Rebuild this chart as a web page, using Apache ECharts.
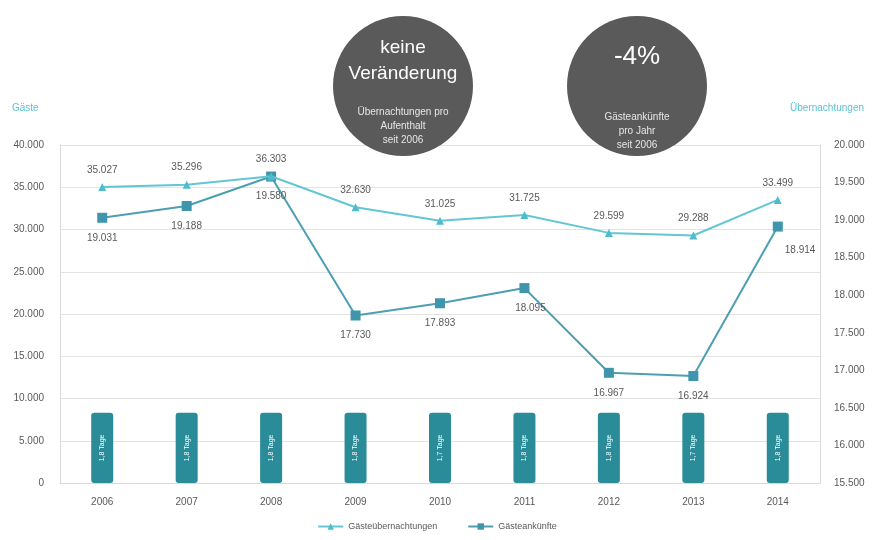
<!DOCTYPE html>
<html>
<head>
<meta charset="utf-8">
<script src="https://cdn.jsdelivr.net/npm/echarts@6/dist/echarts.min.js"></script>
<style>
html,body{margin:0;padding:0;background:#fff;}
#c{width:874px;height:540px;}
</style>
</head>
<body>
<div id="c"></div>
<script>
const years = ['2006','2007','2008','2009','2010','2011','2012','2013','2014'];
const uebernachtungen = [35027, 35296, 36303, 32630, 31025, 31725, 29599, 29288, 33499];
const ankuenfte = [19031, 19188, 19580, 17730, 17893, 18095, 16967, 16924, 18914];
const aufenthaltLabels = ['1,8 Tage','1,8 Tage','1,8 Tage','1,8 Tage','1,7 Tage','1,8 Tage','1,8 Tage','1,7 Tage','1,8 Tage'];
const aufenthaltBarHeight = [8300, 8300, 8300, 8300, 8300, 8300, 8300, 8300, 8300];

const fmt = v => String(v).replace(/\B(?=(\d{3})+(?!\d))/g, '.');

const chart = echarts.init(document.getElementById('c'));
const labelColor = '#595959';
const fontFamily = 'Liberation Sans, Arial, sans-serif';

const ankData = ankuenfte.map((v, i) => {
  if (i === 8) return { value: v, label: { position: 'right', offset: [-8, 24] } };
  if (i === 5) return { value: v, label: { offset: [6, 0] } };
  return v;
});

chart.setOption({
  animation: false,
  textStyle: { fontFamily: fontFamily },
  grid: { left: 60, right: 54, top: 145, bottom: 57 },
  legend: {
    bottom: 4,
    left: 'center',
    itemGap: 30,
    itemWidth: 25,
    itemHeight: 8,
    data: ['Gästeübernachtungen', 'Gästeankünfte'],
    textStyle: { color: labelColor, fontSize: 9 }
  },
  xAxis: {
    type: 'category',
    data: years,
    axisLine: { show: true, lineStyle: { color: '#d9d9d9' } },
    axisTick: { show: false },
    axisLabel: { color: labelColor, fontSize: 10, margin: 14 }
  },
  yAxis: [
    {
      type: 'value', min: 0, max: 40000, interval: 5000,
      axisLine: { show: true, lineStyle: { color: '#d9d9d9' } },
      axisTick: { show: false },
      axisLabel: { color: labelColor, fontSize: 10, margin: 16, formatter: fmt },
      splitLine: { lineStyle: { color: '#e3e3e3' } }
    },
    {
      type: 'value', min: 15500, max: 20000, interval: 500,
      axisLine: { show: true, lineStyle: { color: '#d9d9d9' } },
      axisTick: { show: false },
      axisLabel: { color: labelColor, fontSize: 10, margin: 14, formatter: fmt },
      splitLine: { show: false }
    }
  ],
  series: [
    {
      name: 'Aufenthalt',
      type: 'bar',
      yAxisIndex: 0,
      barWidth: 22,
      data: aufenthaltBarHeight,
      itemStyle: { color: '#2a8b99', borderRadius: 3 },
      label: {
        show: true, position: 'inside', rotate: 90,
        color: '#ffffff', fontSize: 7,
        formatter: p => aufenthaltLabels[p.dataIndex]
      },
      z: 1
    },
    {
      name: 'Gästeübernachtungen',
      type: 'line',
      yAxisIndex: 0,
      data: uebernachtungen,
      symbol: 'triangle',
      symbolSize: 8,
      lineStyle: { color: '#62c6d5', width: 2 },
      itemStyle: { color: '#4fbccd' },
      label: { show: true, position: 'top', distance: 8, color: labelColor, fontSize: 10, formatter: p => fmt(p.value) },
      z: 3
    },
    {
      name: 'Gästeankünfte',
      type: 'line',
      yAxisIndex: 1,
      data: ankData,
      symbol: 'rect',
      symbolSize: 10,
      lineStyle: { color: '#4c9fb3', width: 2 },
      itemStyle: { color: '#3f95ab' },
      label: { show: true, position: 'bottom', distance: 10, color: labelColor, fontSize: 10, formatter: p => fmt(p.value) },
      z: 2
    }
  ],
  graphic: [
    { type: 'text', left: 12, top: 103, style: { text: 'Gäste', fill: '#5bc2d2', fontSize: 10, fontFamily: fontFamily } },
    { type: 'text', right: 10, top: 103, style: { text: 'Übernachtungen', fill: '#5bc2d2', fontSize: 10, fontFamily: fontFamily } },
    { type: 'circle', shape: { cx: 403, cy: 86, r: 70 }, style: { fill: '#5a5a5a' }, z: 100 },
    { type: 'text', x: 403, y: 48, z: 101, style: { text: 'keine', fill: '#fff', fontSize: 19, fontFamily: fontFamily, textAlign: 'center', textVerticalAlign: 'middle' } },
    { type: 'text', x: 403, y: 74, z: 101, style: { text: 'Veränderung', fill: '#fff', fontSize: 19, fontFamily: fontFamily, textAlign: 'center', textVerticalAlign: 'middle' } },
    { type: 'text', x: 403, y: 112, z: 101, style: { text: 'Übernachtungen pro', fill: '#e6e6e6', fontSize: 10, fontFamily: fontFamily, textAlign: 'center', textVerticalAlign: 'middle' } },
    { type: 'text', x: 403, y: 126, z: 101, style: { text: 'Aufenthalt', fill: '#e6e6e6', fontSize: 10, fontFamily: fontFamily, textAlign: 'center', textVerticalAlign: 'middle' } },
    { type: 'text', x: 403, y: 140, z: 101, style: { text: 'seit 2006', fill: '#e6e6e6', fontSize: 10, fontFamily: fontFamily, textAlign: 'center', textVerticalAlign: 'middle' } },
    { type: 'circle', shape: { cx: 637, cy: 86, r: 70 }, style: { fill: '#5a5a5a' }, z: 100 },
    { type: 'text', x: 637, y: 57, z: 101, style: { text: '-4%', fill: '#fff', fontSize: 26, fontFamily: fontFamily, textAlign: 'center', textVerticalAlign: 'middle' } },
    { type: 'text', x: 637, y: 117, z: 101, style: { text: 'Gästeankünfte', fill: '#e6e6e6', fontSize: 10, fontFamily: fontFamily, textAlign: 'center', textVerticalAlign: 'middle' } },
    { type: 'text', x: 637, y: 131, z: 101, style: { text: 'pro Jahr', fill: '#e6e6e6', fontSize: 10, fontFamily: fontFamily, textAlign: 'center', textVerticalAlign: 'middle' } },
    { type: 'text', x: 637, y: 145, z: 101, style: { text: 'seit 2006', fill: '#e6e6e6', fontSize: 10, fontFamily: fontFamily, textAlign: 'center', textVerticalAlign: 'middle' } }
  ]
});
</script>
</body>
</html>
